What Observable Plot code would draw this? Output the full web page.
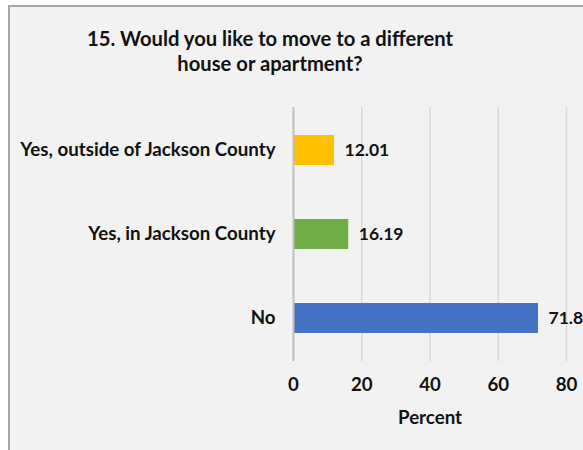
<!DOCTYPE html>
<html><head><meta charset="utf-8">
<script src="https://cdn.jsdelivr.net/npm/d3@7"></script>
<script src="https://cdn.jsdelivr.net/npm/@observablehq/plot@0.6"></script>
<style>
html,body{margin:0;padding:0;background:#fff;}
#wrap{position:relative;width:583px;height:450px;overflow:hidden;}
#box{position:absolute;left:8px;top:5px;width:600px;height:460px;background:#f2f2f2;border-left:2px solid #a6a6a6;border-top:2px solid #a6a6a6;}
#title{position:relative;height:100px;width:540px;box-sizing:border-box;padding-top:26px;text-align:center;font-family:Lato;font-weight:700;font-size:20.2px;line-height:24.5px;color:#111;}
#chart{position:relative;height:350px;}
</style></head><body>
<div id="wrap"><div id="box"></div><div id="title">15. Would you like to move to a different<br>house or apartment?</div><div id="chart"></div></div>
<script>
const categories = ["Yes, outside of Jackson County", "Yes, in Jackson County", "No"];
const values = [12.01, 16.19, 71.8];
const colors = ["#FFC000", "#70AD47", "#4472C4"];
const xTicks = [0, 20, 40, 60, 80];
const xLabel = "Percent";

const data = categories.map((c, i) => ({category: c, value: values[i]}));

const plot = Plot.plot({
  width: 583, height: 350,
  marginTop: 7, marginBottom: 89, marginLeft: 293, marginRight: 17,
  style: {background: "transparent", fontFamily: "Lato", fontSize: "18.7px", fontWeight: "bold", color: "#111", overflow: "visible"},
  x: {domain: [0, 80]},
  y: {domain: categories, paddingInner: 0.646, paddingOuter: 0.323},
  color: {domain: categories, range: colors},
  marks: [
    Plot.gridX(xTicks.filter(t => t > 0), {stroke: "#d9d9d9", strokeOpacity: 1, strokeWidth: 1.5}),
    Plot.barX(data, {x: "value", y: "category", fill: "category"}),
    Plot.ruleX([0], {stroke: "#bfbfbf", strokeWidth: 2}),
    Plot.text(data, {x: "value", y: "category", text: d => String(d.value), dx: 10, textAnchor: "start", fill: "#111", fontSize: 17.5}),
    Plot.axisX({ticks: xTicks, tickSize: 0, tickPadding: 16, label: xLabel, labelAnchor: "center", labelOffset: 62, labelArrow: false}),
    Plot.axisY({tickSize: 0, tickPadding: 18, label: null})
  ]
});
document.getElementById("chart").appendChild(plot);
</script>
</body></html>
